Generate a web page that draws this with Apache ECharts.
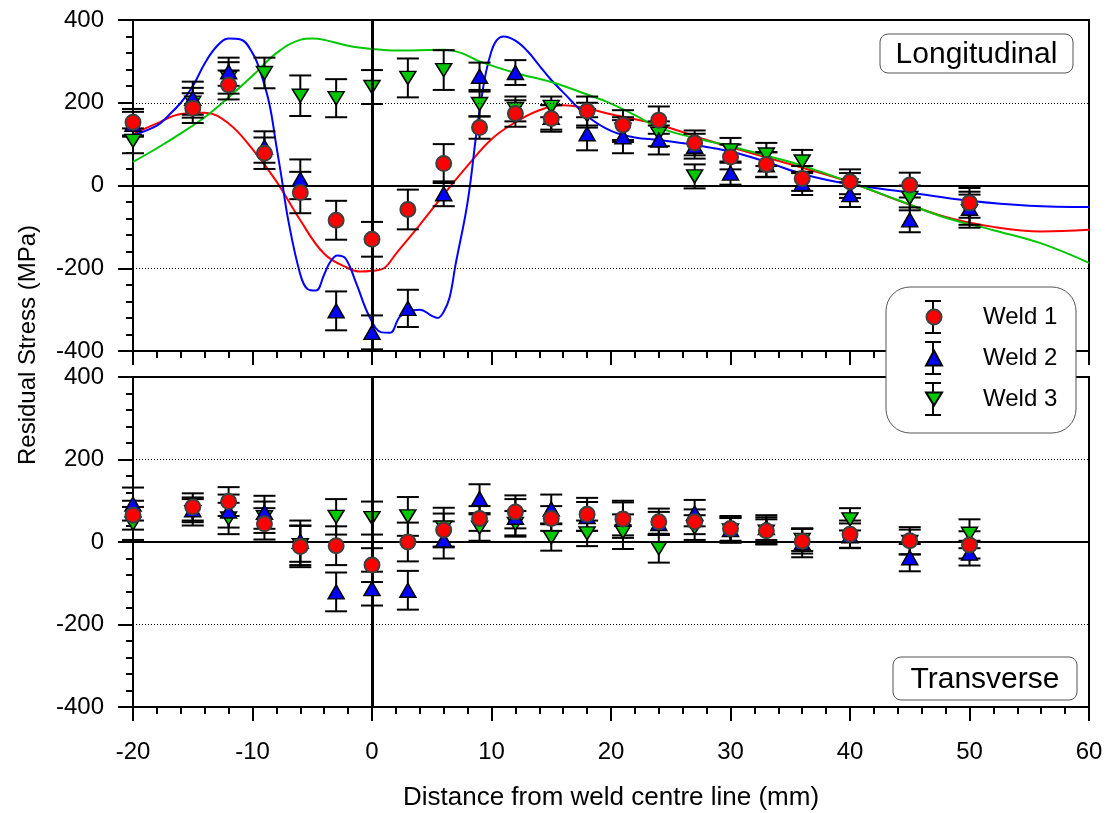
<!DOCTYPE html>
<html>
<head>
<meta charset="utf-8">
<title>Residual stress across the weld</title>
<script src="https://cdn.jsdelivr.net/npm/echarts@6/dist/echarts.min.js"></script>
<style>
  html, body { margin: 0; padding: 0; background: #fff; }
  #chart { width: 1107px; height: 813px; }
</style>
</head>
<body>
<div id="chart"></div>
<script>
// Measurement positions (mm from weld centre line)
const distance = [-20, -15, -12, -9, -6, -3, 0, 3, 6, 9, 12, 15, 18, 21, 24, 27, 30, 33, 36, 40, 45, 50];

// Axis ticks
const distanceTicks = [-20, -10, 0, 10, 20, 30, 40, 50, 60];
const stressTicks = [-400, -200, 0, 200, 400];

// Longitudinal residual stress (MPa) and error (± MPa)
const longWeld1    = [153, 187, 243, 78, -17, -84, -130, -58, 53, 140, 174, 162, 180, 146, 158, 103, 69, 51, 17, 9, 1, -42];
const longWeld1Err = [32, 36, 35, 38, 50, 47, 42, 48, 47, 27, 32, 32, 35, 36, 33, 30, 30, 30, 30, 30, 30, 36];
const longWeld2    = [148, 211, 275, 93, 15, -303, -355, -297, -20, 264, 273, 165, 125, 118, 110, 95, 30, 50, 5, -22, -83, -55];
const longWeld2Err = [30, 40, 34, 38, 48, 47, 41, 45, 30, 33, 30, 30, 40, 40, 35, 30, 28, 30, 28, 30, 30, 40];
const longWeld3    = [108, 200, 260, 272, 217, 211, 238, 260, 279, 197, 185, 190, 170, 135, 125, 22, 85, 75, 58, 0, -30, -62];
const longWeld3Err = [30, 36, 38, 37, 49, 46, 41, 47, 48, 30, 30, 25, 30, 30, 30, 29, 30, 28, 28, 30, 30, 40];

// Transverse residual stress (MPa) and error (± MPa)
const transWeld1    = [65, 85, 98, 44, -11, -9, -56, 0, 29, 57, 73, 57, 67, 56, 49, 49, 33, 27, 2, 19, 3, -7];
const transWeld1Err = [35, 33, 35, 38, 50, 47, 41, 47, 40, 30, 40, 30, 40, 40, 32, 30, 30, 33, 30, 33, 33, 33];
const transWeld2    = [92, 78, 75, 72, 2, -121, -113, -117, 5, 105, 60, 80, 62, 55, 45, 70, 30, 35, -2, 15, -38, -27];
const transWeld2Err = [40, 30, 40, 40, 50, 47, 41, 47, 45, 35, 44, 35, 35, 45, 28, 32, 30, 30, 35, 30, 33, 30];
const transWeld3    = [45, 72, 57, 60, -8, 61, 58, 62, 35, 35, 44, 11, 21, 25, -15, 35, 28, 25, 5, 55, 0, 20];
const transWeld3Err = [40, 32, 38, 38, 48, 43, 40, 47, 48, 32, 31, 32, 31, 42, 35, 30, 30, 30, 27, 27, 30, 35];

// Fitted longitudinal profiles
const fitWeld1X = [-20, -18, -16, -14, -12, -10, -8, -6, -4, -2, -1, 0, 1, 2, 4, 6, 8, 10, 12, 14, 16, 18, 20, 24, 28, 32, 36, 40, 44, 48, 52, 56, 60];
const fitWeld1Y = [124, 150, 173, 176, 150, 88, 10, -84, -165, -200, -208, -206, -200, -165, -95, -22, 48, 112, 153, 182, 194, 186, 172, 147, 110, 76, 43, 8, -36, -76, -100, -111, -107];

const fitWeld2X = [-20, -18, -17, -16, -15, -14, -13, -12, -11, -10, -9.4, -8.6, -8, -7.6, -7, -6, -5.4, -4.7, -4, -3.5, -2.9, -2.2, -1.3, -0.2, 0.8, 1.5, 2.3, 3, 4, 5, 5.5, 6, 6.5, 7, 8, 9, 10, 11, 12, 13, 14, 15, 16, 18, 20, 22, 24, 27, 30, 33, 36, 40, 45, 50, 55, 60];
const fitWeld2Y = [122, 145, 170, 200, 240, 295, 336, 355, 353, 320, 280, 199, 95, 25, -85, -215, -250, -254, -215, -185, -169, -177, -238, -318, -355, -356, -318, -305, -300, -315, -320, -305, -270, -190, -40, 180, 325, 360, 350, 325, 290, 255, 225, 168, 132, 116, 110, 98, 82, 57, 28, 3, -17, -37, -49, -52];

const fitWeld3X = [-20, -18, -16, -14, -12, -10, -8, -6, -5, -4, -2, 0, 2, 4, 6, 7.5, 9, 12, 15, 18, 20, 22, 24, 27, 30, 33, 36, 40, 44, 48, 52, 56, 60];
const fitWeld3Y = [57, 90, 126, 165, 213, 265, 320, 352, 355, 352, 338, 330, 326, 327, 328, 320, 300, 272, 250, 220, 198, 170, 140, 115, 95, 72, 48, 8, -35, -78, -108, -140, -187];

const FONT = '"Liberation Sans", Arial, sans-serif';
const RED = '#ff0000';
const BLUE = '#0000ff';
const GREEN = '#00c800';
const DOWN_TRIANGLE = 'path://M0,0 L16,0 L8,13 Z';

const zip2 = (xs, ys) => xs.map((x, i) => [x, ys[i]]);
const zip3 = (xs, ys, es) => xs.map((x, i) => [x, ys[i], es[i]]);

const CAP_HALF = 11;
function errorBarItem(params, api) {
  const x = api.value(0), y = api.value(1), e = api.value(2);
  const hi = api.coord([x, y + e]);
  const lo = api.coord([x, y - e]);
  const st = { stroke: '#000', lineWidth: 2 };
  return {
    type: 'group',
    children: [
      { type: 'line', shape: { x1: hi[0], y1: hi[1], x2: lo[0], y2: lo[1] }, style: st },
      { type: 'line', shape: { x1: hi[0] - CAP_HALF, y1: hi[1], x2: hi[0] + CAP_HALF, y2: hi[1] }, style: st },
      { type: 'line', shape: { x1: lo[0] - CAP_HALF, y1: lo[1], x2: lo[0] + CAP_HALF, y2: lo[1] }, style: st }
    ]
  };
}

function errorSeries(panel, values, errs) {
  return {
    type: 'custom', xAxisIndex: panel, yAxisIndex: panel, z: 3, silent: true, clip: false,
    renderItem: errorBarItem, encode: { x: 0, y: 1 },
    data: zip3(distance, values, errs)
  };
}

const markerStyles = {
  'Weld 1': { symbol: 'circle', symbolSize: 15, itemStyle: { color: RED, borderColor: '#404040', borderWidth: 2, opacity: 1 }, z: 6 },
  'Weld 2': { symbol: 'triangle', symbolSize: [16, 14], itemStyle: { color: BLUE, borderColor: '#000', borderWidth: 1.5, opacity: 1 }, z: 5 },
  'Weld 3': { symbol: DOWN_TRIANGLE, symbolSize: [16, 13], itemStyle: { color: GREEN, borderColor: '#000', borderWidth: 1.5, opacity: 1 }, z: 4 }
};

function pointSeries(panel, name, values) {
  return Object.assign({
    type: 'scatter', name: name, xAxisIndex: panel, yAxisIndex: panel,
    data: zip2(distance, values)
  }, markerStyles[name]);
}

function fitSeries(name, xs, ys, color) {
  return {
    type: 'line', name: name, xAxisIndex: 0, yAxisIndex: 0, z: 2,
    smooth: 0.4, showSymbol: false, silent: true,
    lineStyle: { color: color, width: 2 },
    data: zip2(xs, ys)
  };
}

// Reference lines: zero stress, ±200 MPa guides and the weld centre line
function referenceSeries(panel) {
  return {
    type: 'line', xAxisIndex: panel, yAxisIndex: panel, data: [], z: 1, silent: true,
    markLine: {
      silent: true, symbol: 'none', label: { show: false }, animation: false,
      data: [
        { yAxis: 0, lineStyle: { color: '#000', width: 2, type: 'solid' } },
        { yAxis: 200, lineStyle: { color: '#000', width: 1, type: [1, 2] } },
        { yAxis: -200, lineStyle: { color: '#000', width: 1, type: [1, 2] } },
        { xAxis: 0, lineStyle: { color: '#000', width: 3, type: 'solid' } }
      ]
    }
  };
}

function xAxisFor(panel, showLabels) {
  return {
    type: 'value', gridIndex: panel,
    min: distanceTicks[0], max: distanceTicks[distanceTicks.length - 1],
    interval: distanceTicks[1] - distanceTicks[0],
    axisLine: { onZero: false, lineStyle: { color: '#000', width: 2 } },
    axisTick: { length: 14, lineStyle: { color: '#000', width: 2 } },
    minorTick: { show: true, splitNumber: 5, length: 7, lineStyle: { color: '#000', width: 2 } },
    splitLine: { show: false },
    axisLabel: { show: showLabels, fontSize: 24, fontFamily: FONT, color: '#000', margin: 33 },
    name: showLabels ? 'Distance from weld centre line (mm)' : '',
    nameLocation: 'middle', nameGap: 78,
    nameTextStyle: { fontSize: 26, fontFamily: FONT, color: '#000' }
  };
}

function yAxisFor(panel) {
  return {
    type: 'value', gridIndex: panel,
    min: stressTicks[0], max: stressTicks[stressTicks.length - 1],
    interval: stressTicks[1] - stressTicks[0],
    axisLine: { onZero: false, lineStyle: { color: '#000', width: 2 } },
    axisTick: { length: 15, lineStyle: { color: '#000', width: 2 } },
    minorTick: { show: true, splitNumber: 5, length: 7, lineStyle: { color: '#000', width: 2 } },
    splitLine: { show: false },
    axisLabel: { fontSize: 24, fontFamily: FONT, color: '#000', margin: 29 }
  };
}

function panelLabel(text, x, y, w, h) {
  return {
    type: 'group', x: x, y: y, z: 10,
    children: [
      { type: 'rect', shape: { x: 0, y: 0, width: w, height: h, r: 8 }, style: { fill: '#fff', stroke: '#555', lineWidth: 1 }, z: 10 },
      { type: 'text', x: w / 2, y: h / 2 + 1, z: 11,
        style: { text: text, fontSize: 30, fontFamily: FONT, fill: '#000', align: 'center', verticalAlign: 'middle' } }
    ]
  };
}

// Error-bar glyphs drawn behind the legend symbols
const legendRows = [317, 358, 399];
const legendGlyphs = [];
legendRows.forEach(cy => {
  const st = { stroke: '#000', lineWidth: 2 };
  legendGlyphs.push(
    { type: 'line', z: 15, shape: { x1: 933, y1: cy - 16, x2: 933, y2: cy + 16 }, style: st },
    { type: 'line', z: 15, shape: { x1: 925, y1: cy - 16, x2: 941, y2: cy - 16 }, style: st },
    { type: 'line', z: 15, shape: { x1: 925, y1: cy + 16, x2: 941, y2: cy + 16 }, style: st }
  );
});

const chart = echarts.init(document.getElementById('chart'), null, { renderer: 'canvas' });
chart.setOption({
  animation: false,
  backgroundColor: '#fff',
  textStyle: { fontFamily: FONT },
  grid: [
    { left: 133, top: 20, width: 956, height: 331, show: true, borderColor: '#000', borderWidth: 2, backgroundColor: 'transparent' },
    { left: 133, top: 377, width: 956, height: 330, show: true, borderColor: '#000', borderWidth: 2, backgroundColor: 'transparent' }
  ],
  xAxis: [xAxisFor(0, false), xAxisFor(1, true)],
  yAxis: [yAxisFor(0), yAxisFor(1)],
  legend: {
    data: ['Weld 1', 'Weld 2', 'Weld 3'],
    orient: 'vertical', left: 925, top: 305, padding: 0,
    itemWidth: 16, itemHeight: 15, itemGap: 17, z: 20,
    textStyle: { fontSize: 24, fontFamily: FONT, color: '#000', padding: [0, 0, 0, 36] }
  },
  graphic: [
    panelLabel('Longitudinal', 880, 34, 193, 39),
    panelLabel('Transverse', 893, 657, 184, 43),
    { type: 'rect', z: 12, shape: { x: 886, y: 287, width: 190, height: 146, r: 24 },
      style: { fill: '#fff', stroke: '#555', lineWidth: 1 } },
    ...legendGlyphs,
    { type: 'text', x: 28, y: 345, rotation: Math.PI / 2, z: 10,
      style: { text: 'Residual Stress (MPa)', fontSize: 24, fontFamily: FONT, fill: '#000', align: 'center', verticalAlign: 'middle' } }
  ],
  series: [
    referenceSeries(0),
    referenceSeries(1),
    fitSeries('Weld 1 fit', fitWeld1X, fitWeld1Y, RED),
    fitSeries('Weld 2 fit', fitWeld2X, fitWeld2Y, BLUE),
    fitSeries('Weld 3 fit', fitWeld3X, fitWeld3Y, GREEN),
    errorSeries(0, longWeld3, longWeld3Err),
    errorSeries(0, longWeld2, longWeld2Err),
    errorSeries(0, longWeld1, longWeld1Err),
    errorSeries(1, transWeld3, transWeld3Err),
    errorSeries(1, transWeld2, transWeld2Err),
    errorSeries(1, transWeld1, transWeld1Err),
    pointSeries(0, 'Weld 3', longWeld3),
    pointSeries(0, 'Weld 2', longWeld2),
    pointSeries(0, 'Weld 1', longWeld1),
    pointSeries(1, 'Weld 3', transWeld3),
    pointSeries(1, 'Weld 2', transWeld2),
    pointSeries(1, 'Weld 1', transWeld1)
  ]
});
</script>
</body>
</html>
